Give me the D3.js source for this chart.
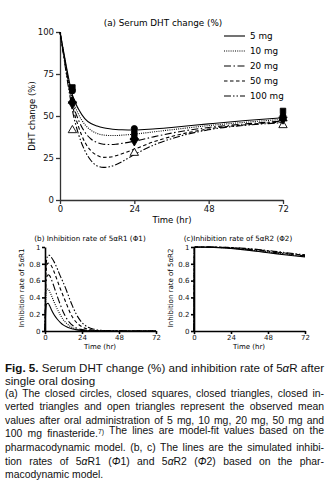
<!DOCTYPE html>
<html>
<head>
<meta charset="utf-8">
<script src="https://cdn.jsdelivr.net/npm/d3@7"></script>
<style>
  body { margin: 0; background: #fff; }
  svg { display: block; font-family: "DejaVu Sans", Verdana, sans-serif; }
  .caption { font-family: "Liberation Sans", Arial, sans-serif; fill: #111; }
</style>
</head>
<body>
<svg id="fig" width="332" height="484"></svg>
<script>
const doses = ['5 mg', '10 mg', '20 mg', '50 mg', '100 mg'];

// (a) serum DHT change, model fit (%)
const dhtTimes = [0, 1, 2, 3, 4, 6, 8, 10, 12, 14, 16, 18, 20, 24, 30, 36, 48, 60, 72];
const dht5   = [100, 90, 80, 70.5, 62.5, 54, 48.5, 45.5, 44, 43, 42.4, 42, 41.8, 41.7, 42.3, 43.2, 45.3, 47.3, 49];
const dht10  = [100, 89.5, 79, 69, 60.5, 51, 45, 41.5, 39.6, 38.7, 38.4, 38.4, 38.6, 39.2, 40.5, 41.8, 44.3, 46.3, 48];
const dht20  = [100, 89, 78, 67.5, 58.5, 47.5, 40.5, 36.3, 34.2, 33.2, 33, 33.2, 33.7, 35, 37.5, 39.8, 43.2, 45.3, 47];
const dht50  = [100, 88.5, 77, 66, 56.5, 43.5, 34.5, 29.3, 26.5, 25.4, 25.5, 26.3, 27.5, 30.2, 34.5, 37.8, 42.3, 44.8, 46.5];
const dht100 = [100, 88, 75.5, 64, 53.5, 39, 29.5, 23.5, 20.3, 19.4, 19.8, 21, 22.8, 27, 32.5, 36.5, 41.8, 44.5, 46];

// (a) observed means
const obsTimes = [4, 24, 72];
const obs5   = [65, 42.5, 50];
const obs10  = [67, 39.5, 53];
const obs20  = [59, 37.5, 48.5];
const obs50  = [57, 35, 48];
const obs100 = [41.5, 28, 44.5];

// (b) inhibition rate of 5aR1
const r1Times = [0, 0.5, 1, 2, 3, 4, 6, 8, 10, 12, 14, 16, 18, 20, 24, 28, 32, 36, 48, 72];
const r1_5   = [0, 0.24, 0.32, 0.33, 0.3, 0.26, 0.19, 0.14, 0.1, 0.07, 0.05, 0.035, 0.024, 0.016, 0.007, 0.003, 0.001, 0, 0, 0];
const r1_10  = [0, 0.38, 0.48, 0.5, 0.47, 0.43, 0.34, 0.26, 0.19, 0.13, 0.09, 0.06, 0.04, 0.025, 0.01, 0.004, 0.002, 0, 0, 0];
const r1_20  = [0, 0.5, 0.63, 0.67, 0.66, 0.62, 0.52, 0.41, 0.31, 0.22, 0.15, 0.1, 0.065, 0.04, 0.017, 0.007, 0.003, 0.001, 0, 0];
const r1_50  = [0, 0.62, 0.76, 0.81, 0.8, 0.78, 0.7, 0.6, 0.5, 0.41, 0.32, 0.23, 0.16, 0.11, 0.05, 0.02, 0.008, 0.003, 0, 0];
const r1_100 = [0, 0.68, 0.84, 0.9, 0.9, 0.88, 0.82, 0.74, 0.65, 0.57, 0.48, 0.38, 0.29, 0.21, 0.1, 0.045, 0.02, 0.008, 0.001, 0];

// (c) inhibition rate of 5aR2
const r2Times = [0, 0.25, 0.5, 1, 4, 8, 12, 16, 20, 24, 30, 36, 42, 48, 54, 60, 66, 72];
const r2_5   = [0, 0.97, 0.995, 0.998, 0.998, 0.997, 0.995, 0.992, 0.988, 0.982, 0.972, 0.96, 0.946, 0.932, 0.918, 0.905, 0.893, 0.882];
const r2_10  = [0, 0.98, 0.996, 0.999, 0.999, 0.998, 0.997, 0.995, 0.991, 0.986, 0.977, 0.966, 0.953, 0.94, 0.926, 0.913, 0.9, 0.888];
const r2_20  = [0, 0.985, 0.997, 0.999, 0.999, 0.999, 0.998, 0.996, 0.993, 0.989, 0.981, 0.971, 0.959, 0.946, 0.932, 0.919, 0.907, 0.894];
const r2_50  = [0, 0.99, 0.998, 1, 1, 0.999, 0.999, 0.997, 0.995, 0.992, 0.985, 0.976, 0.965, 0.952, 0.939, 0.926, 0.913, 0.9];
const r2_100 = [0, 0.993, 0.999, 1, 1, 1, 0.999, 0.998, 0.996, 0.994, 0.988, 0.98, 0.97, 0.958, 0.945, 0.932, 0.919, 0.906];

const timeTicks = [0, 24, 48, 72];
const dhtTicks = [0, 25, 50, 75, 100];
const rateTicks = [0, 0.2, 0.4, 0.6, 0.8, 1];

const headingBold = 'Fig. 5.';
const headingLines = [' Serum DHT change (%) and inhibition rate of 5αR after', 'single oral dosing'];
const bodyLines = [
    '(a) The closed circles, closed squares, closed triangles, closed in-',
    'verted triangles and open triangles represent the observed mean',
    'values after oral administration of 5 mg, 10 mg, 20 mg, 50 mg and',
    '100 mg finasteride.^7) The lines are model-fit values based on the',
    'pharmacodynamic model. (b, c) The lines are the simulated inhibi-',
    'tion rates of 5αR1 (Φ1) and 5αR2 (Φ2) based on the phar-',
    'macodynamic model.'
];

// one dash style per dose, same order as doses
const dashStyles = [null, '1,1.2', '7,2.5,1.5,2.5', '3.5,2.5', '7,2,1.5,2,1.5,2'];

const svg = d3.select('#fig');

function zipSeries(times, values) {
    return times.map((t, i) => ({ t, v: values[i] }));
}

function drawAxes(g, x, y, opts) {
    let xAxis = g.append('g')
        .attr('transform', 'translate(0,' + y.range()[0] + ')')
        .call(d3.axisBottom(x).tickValues(timeTicks).tickSize(opts.tick).tickSizeOuter(0).tickPadding(opts.pad));
    let yAxis = g.append('g')
        .attr('transform', 'translate(' + x.range()[0] + ',0)')
        .call(d3.axisLeft(y).tickValues(opts.yTicks).tickSize(opts.tick).tickSizeOuter(0).tickPadding(opts.pad)
            .tickFormat(opts.fmt));
    [xAxis, yAxis].forEach(a => {
        a.selectAll('path, line').attr('stroke', opts.color).attr('stroke-width', opts.width);
        a.selectAll('text').attr('font-size', opts.font).attr('font-family', 'DejaVu Sans').attr('fill', '#111');
    });
}

function drawLines(g, x, y, times, seriesList, width) {
    let line = d3.line()
        .x(d => x(d.t))
        .y(d => y(d.v))
        .curve(d3.curveMonotoneX);

    g.append('g')
        .selectAll('path')
        .data(seriesList)
        .enter().append('path')
        .attr('d', d => line(zipSeries(times, d)))
        .attr('fill', 'none')
        .attr('stroke', '#000')
        .attr('stroke-width', width)
        .attr('stroke-dasharray', (d, i) => dashStyles[i]);
}

// ---- panel (a)
function panelA() {
    let x = d3.scaleLinear().domain([0, 72]).range([60, 283]),
        y = d3.scaleLinear().domain([0, 100]).range([200, 32]),
        g = svg.append('g');

    drawAxes(g, x, y, { tick: 4, pad: 2, yTicks: dhtTicks, fmt: d3.format('d'), color: '#333', width: 1.3, font: 8.5 });
    drawLines(g, x, y, dhtTimes, [dht5, dht10, dht20, dht50, dht100], 1.1);

    // observed points
    let markers = [
        { vals: obs100, type: d3.symbolTriangle, rot: 0, fill: '#fff' },
        { vals: obs50, type: d3.symbolTriangle, rot: 180, fill: '#000' },
        { vals: obs20, type: d3.symbolTriangle, rot: 0, fill: '#000' },
        { vals: obs5, type: d3.symbolCircle, rot: 0, fill: '#000' },
        { vals: obs10, type: d3.symbolSquare, rot: 0, fill: '#000' }
    ];
    markers.forEach(m => {
        g.append('g')
            .selectAll('path')
            .data(zipSeries(obsTimes, m.vals))
            .enter().append('path')
            .attr('d', d3.symbol().type(m.type).size(30))
            .attr('transform', d => 'translate(' + x(d.t) + ',' + y(d.v) + ') rotate(' + m.rot + ')')
            .attr('fill', m.fill)
            .attr('stroke', '#000')
            .attr('stroke-width', 0.9);
    });

    g.append('text').attr('x', 163).attr('y', 26).attr('text-anchor', 'middle')
        .attr('font-size', 8.8).text('(a) Serum DHT change (%)');
    g.append('text').attr('x', 172).attr('y', 223).attr('text-anchor', 'middle')
        .attr('font-size', 8.5).text('Time (hr)');
    g.append('text').attr('transform', 'translate(35,116) rotate(-90)').attr('text-anchor', 'middle')
        .attr('font-size', 8.5).text('DHT change (%)');

    // legend
    let legend = g.append('g')
        .selectAll('g')
        .data(doses)
        .enter().append('g')
        .attr('transform', (d, i) => 'translate(224,' + (36 + i * 15) + ')');
    legend.append('line')
        .attr('x1', 0).attr('x2', 21)
        .attr('stroke', '#000').attr('stroke-width', 1.1)
        .attr('stroke-dasharray', (d, i) => dashStyles[i]);
    legend.append('text')
        .attr('x', 26).attr('y', 3)
        .attr('font-size', 8.8)
        .text(d => d);
}

// ---- panels (b) and (c)
function ratePanel(left, title, titleX, ylabel, times, seriesList) {
    let x = d3.scaleLinear().domain([0, 72]).range([left, left + 111]),
        y = d3.scaleLinear().domain([0, 1]).range([331, 247]),
        g = svg.append('g');

    drawLines(g, x, y, times, seriesList, 1.1);
    drawAxes(g, x, y, { tick: 3, pad: 1.5, yTicks: rateTicks, fmt: d => d === 0 || d === 1 ? d3.format('d')(d) : d3.format('.1f')(d), color: '#000', width: 1.6, font: 7 });

    g.append('text').attr('x', titleX).attr('y', 241).attr('text-anchor', 'middle')
        .attr('font-size', 7.2).text(title);
    g.append('text').attr('x', left + 55).attr('y', 349).attr('text-anchor', 'middle')
        .attr('font-size', 7).text('Time (hr)');
    g.append('text').attr('transform', 'translate(' + (left - 21) + ',288) rotate(-90)').attr('text-anchor', 'middle')
        .attr('font-size', 7).text(ylabel);
}

// ---- caption
function styledLine(text, str) {
    str.split(/(α|Φ|\^7\))/).forEach(part => {
        if (!part) return;
        if (part === 'α' || part === 'Φ') {
            text.append('tspan').attr('font-style', 'italic').text(part);
        } else if (part === '^7)') {
            text.append('tspan').attr('dy', -3.8).attr('font-size', 6.8).text('7)');
            text.append('tspan').attr('dy', 3.8).text('');
        } else {
            text.append('tspan').text(part);
        }
    });
}

function justify(text, target) {
    let natural = text.node().getComputedTextLength(),
        spaces = (text.text().match(/ /g) || []).length;
    if (spaces > 0) text.attr('word-spacing', (target - natural) / spaces);
}

function addCaption() {
    let cap = svg.append('g').attr('class', 'caption'),
        left = 5, right = 324;

    let h1 = cap.append('text').attr('x', left).attr('y', 371.5).attr('font-size', 11.6);
    h1.append('tspan').attr('font-weight', 'bold').text(headingBold);
    styledLine(h1, headingLines[0]);
    justify(h1, right - left);
    cap.append('text').attr('x', left).attr('y', 384.5).attr('font-size', 11.6).text(headingLines[1]);

    bodyLines.forEach((str, i) => {
        let t = cap.append('text')
            .attr('x', left)
            .attr('y', 396.5 + i * 13.6)
            .attr('font-size', 10.4);
        styledLine(t, str);
        if (i < bodyLines.length - 1) justify(t, right - left);
    });
}

panelA();
ratePanel(45, '(b) Inhibition rate of 5αR1 (Φ1)', 90, 'Inhibition rate of 5αR1', r1Times, [r1_5, r1_10, r1_20, r1_50, r1_100]);
ratePanel(194, '(c)Inhibition rate of 5αR2 (Φ2)', 238, 'Inhibition rate of 5αR2', r2Times, [r2_5, r2_10, r2_20, r2_50, r2_100]);
addCaption();
</script>
</body>
</html>
